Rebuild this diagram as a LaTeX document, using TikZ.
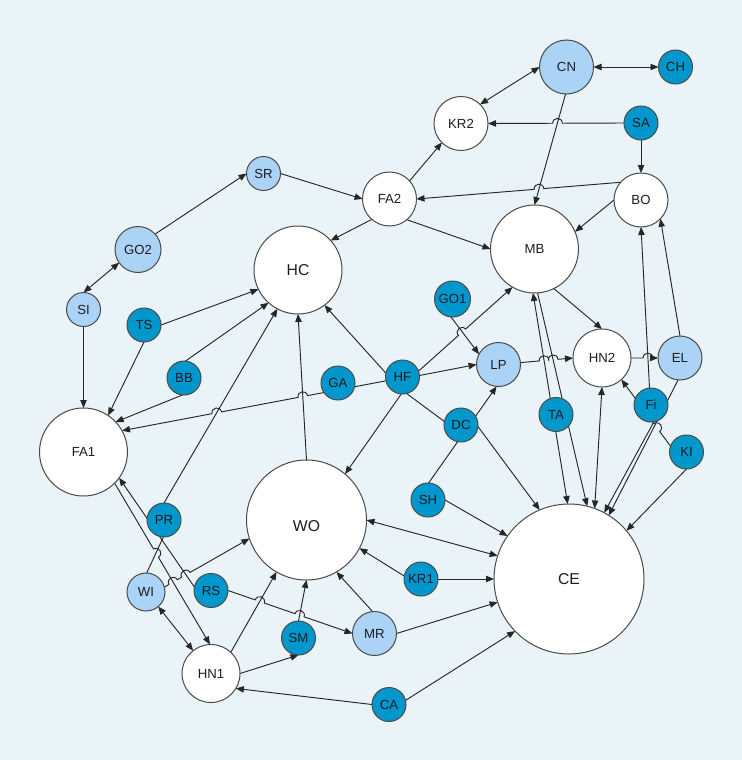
\documentclass[tikz,border=0pt]{standalone}
\usepackage{fontspec}
\setmainfont{Liberation Sans}
\usetikzlibrary{arrows.meta,calc}
\definecolor{bgc}{HTML}{EAF3F7}
\definecolor{dkb}{HTML}{0097CC}
\definecolor{ltb}{HTML}{AAD3F5}
\definecolor{strk}{HTML}{4A4A4A}
\definecolor{lnc}{HTML}{262626}
\definecolor{txt}{HTML}{1C1C24}
\pgfdeclarelayer{back}
\pgfdeclarelayer{edges}
\pgfsetlayers{back,edges,main}
\def\hoprad{3.6pt}
\def\hopctl{4.8pt}
\newcommand{\hopone}[5]{%
  \coordinate (hA) at (#2);
  \coordinate (hB) at (#3);
  \coordinate (hP) at ($(hA)!#4!(hB)$);
  \coordinate (h1) at ($(hP)!\hoprad!(hA)$);
  \coordinate (h2) at ($(hP)!\hoprad!(hB)$);
  \draw[#1] (hA) -- (h1) .. controls ($(h1)!\hopctl!#5:(h2)$) and ($(h2)!\hopctl!#5:(hB)$) .. (h2) -- (hB);
}
\newcommand{\hoptwo}[6]{%
  \coordinate (hA) at (#2);
  \coordinate (hB) at (#3);
  \coordinate (hP) at ($(hA)!#4!(hB)$);
  \coordinate (h1) at ($(hP)!\hoprad!(hA)$);
  \coordinate (h2) at ($(hP)!\hoprad!(hB)$);
  \coordinate (hQ) at ($(hA)!#5!(hB)$);
  \coordinate (h3) at ($(hQ)!\hoprad!(hA)$);
  \coordinate (h4) at ($(hQ)!\hoprad!(hB)$);
  \draw[#1] (hA) -- (h1) .. controls ($(h1)!\hopctl!#6:(h2)$) and ($(h2)!\hopctl!#6:(hB)$) .. (h2)
    -- (h3) .. controls ($(h3)!\hopctl!#6:(h4)$) and ($(h4)!\hopctl!#6:(hB)$) .. (h4) -- (hB);
}
\tikzset{
  nd/.style={circle,draw=strk,line width=0.75pt,inner sep=0pt,outer sep=0pt,text=txt,font=\fontsize{9.9}{12}\selectfont},
  dk/.style={nd,fill=dkb},
  lt/.style={nd,fill=ltb},
  wt/.style={nd,fill=white},
  bigf/.style={font=\fontsize{11.8}{14}\selectfont},
  ln/.style={draw=lnc,line width=0.7pt},
  arr/.style={ln,-{Triangle[length=6pt,width=4.8pt]}},
  biarr/.style={ln,{Triangle[length=6pt,width=4.8pt]}-{Triangle[length=6pt,width=4.8pt]}}
}
\begin{document}
\begin{tikzpicture}[x=0.75pt,y=-0.75pt]
\begin{pgfonlayer}{back}
\fill[bgc] (0,0) rectangle (742,760);
\end{pgfonlayer}
\useasboundingbox (0,0) rectangle (742,760);
% nodes
\node[lt,minimum size=40.5pt] (CN) at (566.5,67) {CN};
\node[dk,minimum size=25.5pt] (CH) at (675.5,67) {CH};
\node[wt,minimum size=40.5pt] (KR2) at (461,123.5) {KR2};
\node[dk,minimum size=25.5pt] (SA) at (641,123) {SA};
\node[wt,minimum size=40.5pt] (BO) at (641,200) {BO};
\node[lt,minimum size=25.5pt] (SR) at (263.5,173.5) {SR};
\node[wt,minimum size=40.5pt] (FA2) at (389.5,199) {FA2};
\node[lt,minimum size=34.5pt] (GO2) at (138,249.5) {GO2};
\node[wt,bigf,minimum size=66pt] (HC) at (298,270) {HC};
\node[wt,minimum size=66pt] (MB) at (534.5,249) {MB};
\node[lt,minimum size=25.5pt] (SI) at (83.5,309.5) {SI};
\node[dk,minimum size=25.5pt] (TS) at (144,325) {TS};
\node[dk,minimum size=27pt] (GO1) at (452.5,299) {GO1};
\node[lt,minimum size=33pt] (LP) at (498.5,364.5) {LP};
\node[wt,minimum size=43.5pt] (HN2) at (602,358) {HN2};
\node[lt,minimum size=33pt] (EL) at (680,358) {EL};
\node[dk,minimum size=25.5pt] (BB) at (184,378) {BB};
\node[dk,minimum size=25.5pt] (GA) at (338,383) {GA};
\node[dk,minimum size=25.5pt] (HF) at (402.5,377) {HF};
\node[dk,minimum size=25.5pt] (Fi) at (651,405) {Fi};
\node[dk,minimum size=25.5pt] (TA) at (556,414.5) {TA};
\node[dk,minimum size=25.5pt] (DC) at (461,425) {DC};
\node[dk,minimum size=25.5pt] (KI) at (686.5,452) {KI};
\node[wt,minimum size=66pt] (FA1) at (83.5,452) {FA1};
\node[dk,minimum size=25.5pt] (SH) at (428,500) {SH};
\node[wt,bigf,minimum size=90pt] (WO) at (306.5,520) {\raisebox{-8.6pt}[0pt][0pt]{WO}};
\node[wt,bigf,minimum size=112.5pt] (CE) at (569,579) {CE};
\node[dk,minimum size=25.5pt] (PR) at (164,520) {PR};
\node[dk,minimum size=25.5pt] (KR1) at (421,579) {KR1};
\node[lt,minimum size=28.5pt] (WI) at (146,592) {WI};
\node[dk,minimum size=25.5pt] (RS) at (211,590.5) {RS};
\node[lt,minimum size=33pt] (MR) at (374.5,633.5) {MR};
\node[dk,minimum size=25.5pt] (SM) at (298.5,638) {SM};
\node[wt,minimum size=43.5pt] (HN1) at (211,673.5) {HN1};
\node[dk,minimum size=25.5pt] (CA) at (389,704.5) {CA};
% edges
\begin{pgfonlayer}{edges}
\draw[biarr] (CN.0) -- (CH.180);
\draw[biarr] (CN.180) -- (KR2.45);
\hopone{arr}{SA.180}{KR2.0}{0.489}{-90}
\draw[arr] (SA.270) -- (BO.90);
\draw[arr] (CN.268) -- (MB.90);
\hopone{arr}{BO.139}{FA2.0}{0.40}{-90}
\draw[arr] (BO.180) -- (MB.23);
\draw[arr] (FA2.42) -- (KR2.225);
\draw[arr] (SR.0) -- (FA2.180);
\draw[arr] (GO2.42) -- (SR.180);
\draw[biarr] (SI.90) -- (GO2.215);
\draw[arr] (FA2.229) -- (HC.42);
\draw[arr] (FA2.310) -- (MB.180);
\draw[arr] (SI.270) -- (FA1.90);
\draw[arr] (TS.0) -- (HC.206);
\draw[arr] (TS.270) -- (FA1.56);
\draw[arr] (BB.85) -- (HC.228);
\draw[arr] (BB.265) -- (FA1.43);
\draw[arr] (PR.90) -- (HC.242);
\draw[arr] (WO.90) -- (HC.270);
\draw[arr] (HF.167) -- (HC.307);
\hoptwo{arr}{HF.193}{FA1.29}{0.315}{0.641}{-90}
\draw[arr] (HF.5) -- (LP.180);
\hopone{arr}{HF.20}{MB.240}{0.463}{90}
\draw[arr] (GO1.265) -- (LP.152);
\draw[arr] (HF.266) -- (WO.50);
\draw[ln] (HF.284) -- (DC.168);
\draw[arr] (SH.88) -- (LP.265);
\draw[arr] (DC.-5) -- (CE.113);
\draw[arr] (SH.0) -- (CE.145);
\draw[biarr] (WO.0) -- (CE.162);
\draw[arr] (KR1.170) -- (WO.332);
\draw[arr] (KR1.0) -- (CE.180);
\draw[arr] (MR.95) -- (WO.300);
\draw[arr] (MR.0) -- (CE.198);
\hoptwo{arr}{RS.0}{MR.180}{0.255}{0.575}{90}
\draw[arr] (SM.90) -- (WO.270);
\draw[arr] (HN1.47) -- (WO.240);
\draw[arr] (HN1.0) -- (SM.270);
\draw[arr] (CA.180) -- (HN1.329);
\draw[arr] (CA.14) -- (CE.224);
\hoptwo{arr}{WI.15}{WO.198}{0.103}{0.253}{90}
\draw[biarr] (WI.310) -- (HN1.128);
\draw[ln] (WI.88) -- (PR.268);
\draw[arr] (RS.168) -- (FA1.324);
\hopone{arr}{FA1.315}{HN1.92}{0.4335}{90}
\draw[arr] (Fi.95) -- (BO.270);
\draw[arr] (EL.90) -- (BO.316);
\hopone{arr}{HN2.0}{EL.180}{0.626}{90}
\hoptwo{arr}{LP.5}{HN2.180}{0.45}{0.623}{90}
\draw[arr] (MB.296) -- (HN2.90);
\draw[biarr] (MB.268) -- (CE.91);
\draw[arr] (MB.274) -- (CE.76);
\draw[biarr] (HN2.270) -- (CE.70);
\draw[arr] (Fi.280) -- (CE.62);
\draw[arr] (EL.265) -- (CE.58);
\hopone{arr}{KI.160}{HN2.312}{0.28}{-90}
\draw[arr] (KI.270) -- (CE.40);
\end{pgfonlayer}
\end{tikzpicture}
\end{document}
